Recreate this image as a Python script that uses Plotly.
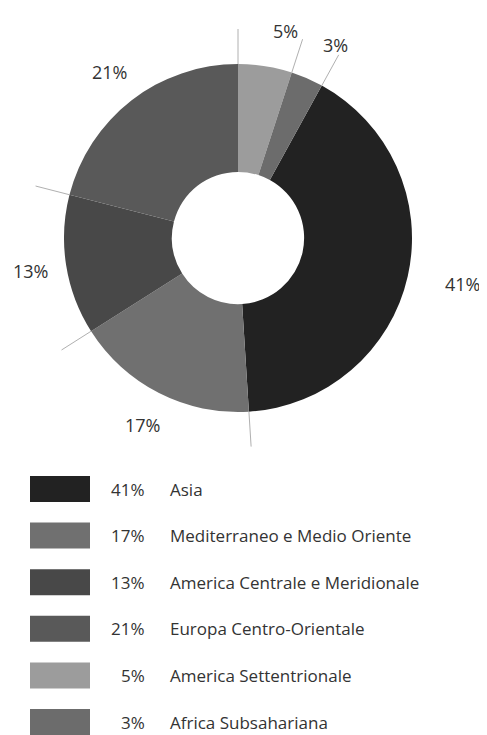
import math
import plotly.graph_objects as go

# data (legend order)
regions = ["Asia", "Mediterraneo e Medio Oriente", "America Centrale e Meridionale",
           "Europa Centro-Orientale", "America Settentrionale", "Africa Subsahariana"]
shares = [41, 17, 13, 21, 5, 3]
colors = ["#222222", "#707070", "#484848", "#595959", "#9c9c9c", "#6c6c6c"]

W, H = 487, 735
OFF = 8  # page body margin
cx, cy, R = 238, 238, 174
FONT = "Open Sans"
TXT = "#333333"


def px(x):
    return (x - OFF) / (W - OFF)


def py(y):
    return 1 - (y - OFF) / (H - OFF)


# pie starts so that the last two slices sit just right of 12 o'clock
total = sum(shares)
rotation = 360 * (shares[-1] + shares[-2]) / total

fig = go.Figure()
fig.add_trace(go.Pie(
    labels=regions,
    values=shares,
    hole=0.38,
    sort=False,
    direction="clockwise",
    rotation=rotation,
    marker=dict(colors=colors, line=dict(width=0)),
    textinfo="none",
    hoverinfo="label+percent",
    showlegend=False,
    domain=dict(x=[px(cx - R), px(cx + R)], y=[py(cy + R), py(cy - R)]),
))

shapes = []
annotations = []

# leader lines on slice boundaries and outside percent labels
angle = rotation
for v in shares:
    a = math.radians(angle)
    shapes.append(dict(
        type="line", xref="paper", yref="paper",
        x0=px(cx + R * math.sin(a)), y0=py(cy - R * math.cos(a)),
        x1=px(cx + 209 * math.sin(a)), y1=py(cy - 209 * math.cos(a)),
        line=dict(color="#b0b0b0", width=1),
    ))
    mid = math.radians(angle + 360 * v / total / 2)
    s, c = math.sin(mid), math.cos(mid)
    annotations.append(dict(
        xref="paper", yref="paper",
        x=px(cx + 210 * s), y=py(cy - 210 * c),
        text="%d%%" % v, showarrow=False,
        xanchor="left" if s > 0.1 else "center", yanchor="middle",
        font=dict(family=FONT, size=18, color=TXT),
    ))
    angle += 360 * v / total

# legend built by hand: swatch, percent, name
row0, step = 489, 46.6
for i, (name, v, c) in enumerate(zip(regions, shares, colors)):
    y = row0 + i * step
    shapes.append(dict(
        type="rect", xref="paper", yref="paper",
        x0=px(30), x1=px(90), y0=py(y + 13), y1=py(y - 13),
        fillcolor=c, line=dict(width=0),
    ))
    annotations.append(dict(
        xref="paper", yref="paper", x=px(147), y=py(y),
        text="%d%%" % v, showarrow=False, xanchor="right", yanchor="middle",
        font=dict(family=FONT, size=17, color=TXT),
    ))
    annotations.append(dict(
        xref="paper", yref="paper", x=px(168), y=py(y),
        text=name, showarrow=False, xanchor="left", yanchor="middle",
        font=dict(family=FONT, size=17, color=TXT),
    ))

fig.update_layout(
    width=W - OFF, height=H - OFF,
    margin=dict(l=0, r=0, t=0, b=0),
    paper_bgcolor="white",
    plot_bgcolor="white",
    shapes=shapes,
    annotations=annotations,
)

fig.write_html("out.html")
